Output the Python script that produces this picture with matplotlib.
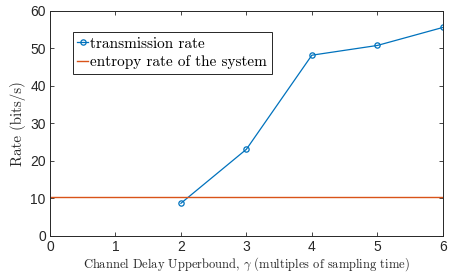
import matplotlib
matplotlib.use('Agg')
import matplotlib.pyplot as plt

# data
delay = [2, 3, 4, 5, 6]
rate = [8.7, 23.1, 48.2, 50.8, 55.6]
entropy_rate = 10.4

plt.rcParams['mathtext.fontset'] = 'cm'
plt.rcParams['font.family'] = ['Liberation Sans', 'DejaVu Sans']

fig = plt.figure(figsize=(4.5, 2.74), dpi=100)
ax = fig.add_axes([0.111, 0.139, 0.873, 0.821])

ax.plot(delay, rate, color='#0072BD', lw=0.9, marker='o', ms=3.8,
        mfc='none', mew=0.9, label='transmission rate')
ax.axhline(entropy_rate, color='#D95319', lw=1.0, label='entropy rate of the system')

ax.set_xlim(0, 6)
ax.set_ylim(0, 60)
ax.set_xticks(range(0, 7))
ax.set_yticks(range(0, 61, 10))
ax.tick_params(direction='in', top=True, right=True, labelsize=10, length=3,
               width=0.6, colors='#262626', pad=3)
for s in ax.spines.values():
    s.set_linewidth(0.7)
    s.set_color('#262626')

ax.set_xlabel(r'Channel Delay Upperbound, $\gamma$ (multiples of sampling time)',
              family='cmr10', size=9.0, color='#262626', labelpad=1)
ax.set_ylabel('Rate (bits/s)', family='cmr10', size=10.8, color='#262626',
              labelpad=3)

leg = ax.legend(loc='upper left', bbox_to_anchor=(0.058, 0.905),
                prop={'family': 'cmr10', 'size': 11},
                handlelength=0.7, handletextpad=0.15, borderpad=0.3,
                labelspacing=0.3, fancybox=False, framealpha=1,
                edgecolor='#262626', borderaxespad=0)
leg.get_frame().set_linewidth(0.7)

fig.savefig('out.png', dpi=100)
